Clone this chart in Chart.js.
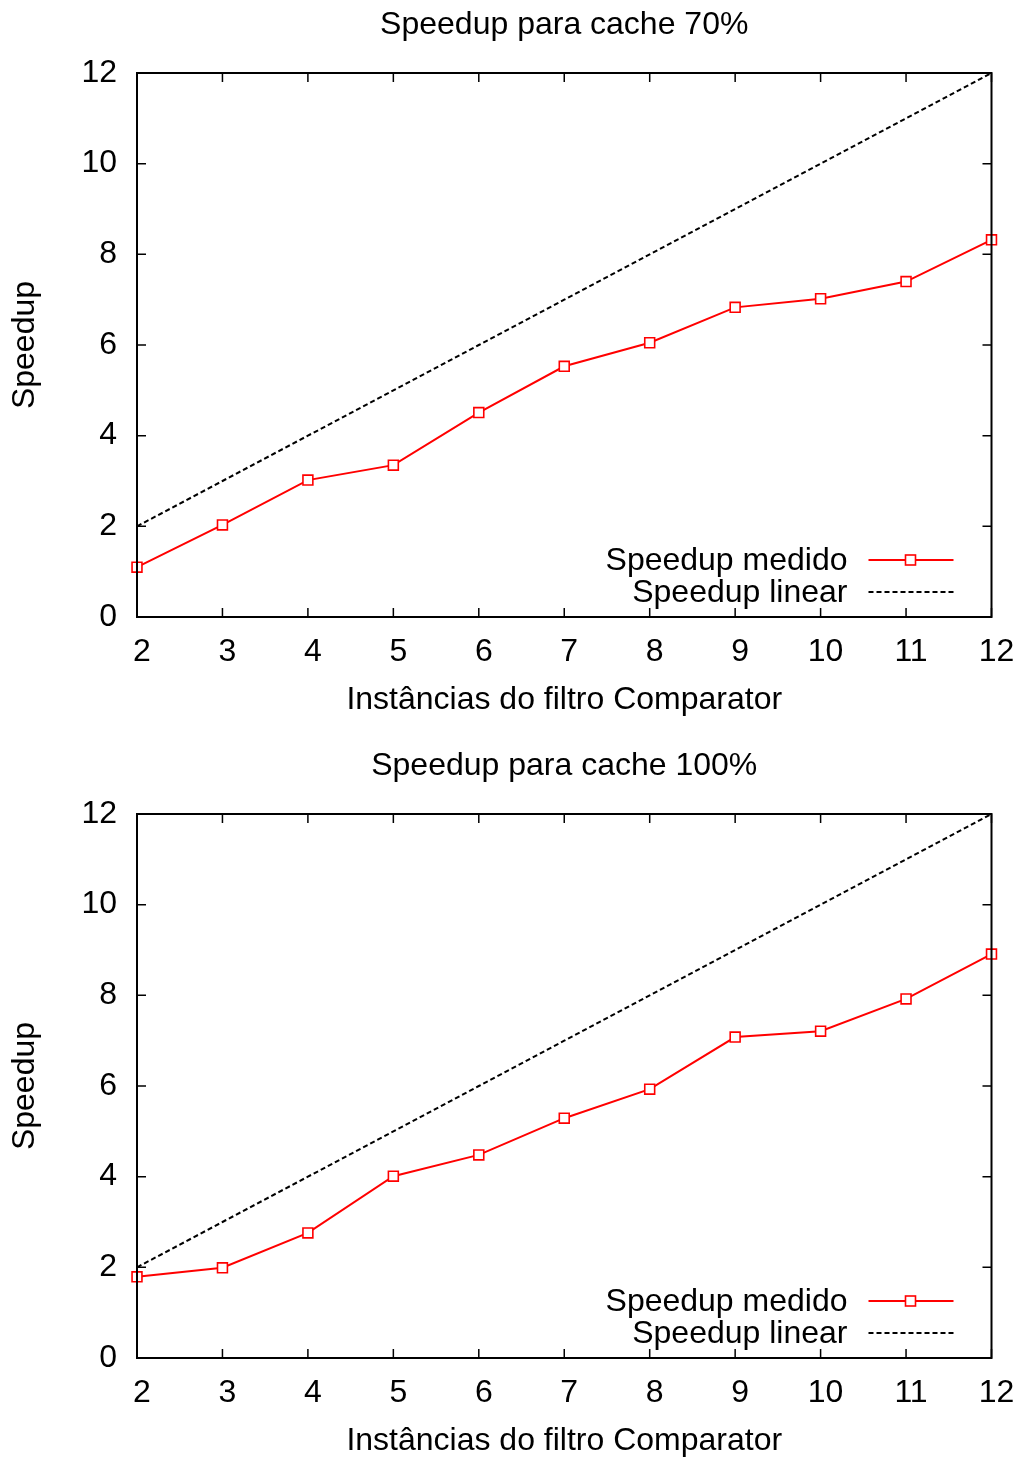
<!DOCTYPE html>
<html lang="pt-BR">
<head>
<meta charset="utf-8">
<title>Speedup</title>
<script src="https://cdn.jsdelivr.net/npm/chart.js@4.4.0/dist/chart.umd.min.js"></script>
<style>
  html, body { margin: 0; padding: 0; background: #fff; overflow: hidden; }
  canvas { display: block; }
</style>
</head>
<body>
<canvas id="grafico70" width="1020" height="741"></canvas>
<canvas id="grafico100" width="1020" height="718"></canvas>
<script>
// Dados
const instancias = [2, 3, 4, 5, 6, 7, 8, 9, 10, 11, 12];
const speedup70 = [1.10, 2.03, 3.02, 3.35, 4.51, 5.53, 6.05, 6.83, 7.02, 7.40, 8.32];
const speedup100 = [1.79, 1.99, 2.76, 4.01, 4.48, 5.29, 5.93, 7.08, 7.21, 7.92, 8.91];
const speedupLinear = [2, 3, 4, 5, 6, 7, 8, 9, 10, 11, 12];
const ticksX = [2, 3, 4, 5, 6, 7, 8, 9, 10, 11, 12];
const ticksY = [0, 2, 4, 6, 8, 10, 12];

const fonte = "'Liberation Sans', Arial, sans-serif";
const fonteTexto = { family: fonte, size: 32, weight: 'normal' };

// moldura estilo gnuplot: caixa fechada, marcas para dentro, titulo e legenda no canto
const molduraGnuplot = {
  id: 'molduraGnuplot',
  afterDatasetsDraw(chart, args, opts) {
    const { ctx, chartArea: a, scales: { x, y } } = chart;
    ctx.save();
    ctx.strokeStyle = '#000';
    ctx.lineWidth = 1.5;
    ctx.beginPath();
    x.ticks.forEach(t => {
      const px = x.getPixelForValue(t.value);
      ctx.moveTo(px, a.bottom); ctx.lineTo(px, a.bottom - 9);
      ctx.moveTo(px, a.top); ctx.lineTo(px, a.top + 9);
    });
    y.ticks.forEach(t => {
      const py = y.getPixelForValue(t.value);
      ctx.moveTo(a.left, py); ctx.lineTo(a.left + 9, py);
      ctx.moveTo(a.right, py); ctx.lineTo(a.right - 9, py);
    });
    ctx.stroke();
    ctx.lineWidth = 2;
    ctx.strokeRect(a.left, a.top, a.right - a.left, a.bottom - a.top);

    // titulo centrado sobre a area do grafico
    ctx.font = '32px ' + fonte;
    ctx.fillStyle = '#000';
    ctx.textAlign = 'center';
    ctx.textBaseline = 'middle';
    ctx.fillText(opts.titulo, (a.left + a.right) / 2, 25);

    // legenda
    ctx.textAlign = 'right';
    chart.data.datasets.forEach((ds, i) => {
      const ly = a.bottom - 57 + i * 32;
      ctx.fillStyle = '#000';
      ctx.fillText(ds.label, a.right - 144, ly + 1);
      ctx.strokeStyle = ds.borderColor;
      ctx.lineWidth = ds.borderWidth;
      ctx.setLineDash(ds.borderDash || []);
      ctx.beginPath();
      ctx.moveTo(a.right - 123, ly);
      ctx.lineTo(a.right - 38, ly);
      ctx.stroke();
      ctx.setLineDash([]);
      if (ds.pointRadius > 0) {
        ctx.fillStyle = '#fff';
        ctx.fillRect(a.right - 86, ly - 5, 10, 10);
        ctx.lineWidth = ds.pointBorderWidth;
        ctx.strokeRect(a.right - 86, ly - 5, 10, 10);
      }
    });
    ctx.restore();
  }
};

function criarGrafico(id, titulo, medido, padBaixo) {
  return new Chart(document.getElementById(id), {
    type: 'line',
    data: {
      datasets: [{
        label: 'Speedup medido',
        data: medido.map((v, i) => ({ x: instancias[i], y: v })),
        borderColor: '#ff0000',
        borderWidth: 2,
        pointStyle: 'rect',
        pointRadius: 7,
        pointBorderWidth: 1.6,
        pointBorderColor: '#ff0000',
        pointBackgroundColor: '#ffffff',
        tension: 0,
        clip: false
      }, {
        label: 'Speedup linear',
        data: speedupLinear.map((v, i) => ({ x: instancias[i], y: v })),
        borderColor: '#000000',
        borderWidth: 2,
        borderDash: [5, 3],
        pointRadius: 0,
        tension: 0,
        clip: false
      }]
    },
    options: {
      responsive: false,
      animation: false,
      layout: { padding: { left: 0, right: 28.5, top: 73, bottom: padBaixo } },
      plugins: {
        legend: { display: false },
        tooltip: { enabled: false },
        title: { display: false },
        molduraGnuplot: { titulo: titulo }
      },
      scales: {
        x: {
          type: 'linear',
          min: 2,
          max: 12,
          afterBuildTicks: s => { s.ticks = ticksX.map(v => ({ value: v })); },
          afterFit: s => { s.height = 102; s.paddingLeft = 0; s.paddingRight = 0; },
          grid: { display: false, drawTicks: false },
          border: { display: false },
          ticks: { padding: 16, labelOffset: 5, color: '#000', font: fonteTexto, maxRotation: 0 },
          title: { display: true, text: 'Instâncias do filtro Comparator', color: '#000', font: fonteTexto, padding: 0 }
        },
        y: {
          type: 'linear',
          min: 0,
          max: 12,
          afterBuildTicks: s => { s.ticks = ticksY.map(v => ({ value: v })); },
          afterFit: s => { s.width = 137; },
          grid: { display: false, drawTicks: false },
          border: { display: false },
          ticks: { padding: 20, color: '#000', font: fonteTexto },
          title: { display: true, text: 'Speedup', color: '#000', font: fonteTexto, padding: { top: 6, bottom: 0 } }
        }
      }
    },
    plugins: [molduraGnuplot]
  });
}

criarGrafico('grafico70', 'Speedup para cache 70%', speedup70, 22);
criarGrafico('grafico100', 'Speedup para cache 100%', speedup100, -1);
</script>
</body>
</html>
